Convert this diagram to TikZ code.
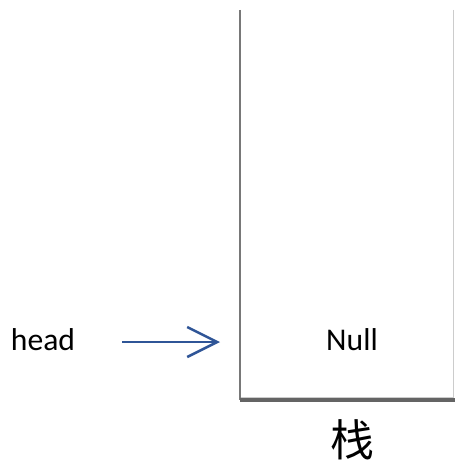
\documentclass[tikz,border=0pt]{standalone}
\usepackage{fontspec}
\setmainfont{Carlito}
\newfontfamily\cjk{Noto Sans CJK SC}
\usetikzlibrary{arrows.meta,positioning}

\begin{document}
\begin{tikzpicture}[
		x=0.02cm,y=-0.02cm,
		label/.style={inner sep=0pt,font=\fontsize{18}{21}\selectfont},
		pointer/.style={-{Straight Barb[length=0.6cm,width=0.6cm,line width=0.05cm]},line width=0.05cm,draw={rgb,255:red,47;green,85;blue,151}},
		wall/.style={draw={rgb,255:red,120;green,120;blue,120},line width=0.04cm}
		]
		\useasboundingbox (0,0) rectangle (455,462);
		
		% stack frame
		\coordinate (top) at (240,10);
		\coordinate (corner) at (240,400);
		\coordinate (end) at (455,400);
		\draw[gray!40,line width=0.02cm] (453,10) -- (453,400);
		\draw[gray!40,line width=0.01cm] (241,397) -- (454,397);
		\draw[wall] (top) -- (corner);
		\draw[wall,line width=0.08cm,draw={rgb,255:red,100;green,100;blue,100}] (corner) -- (end);
		
		\node[label,anchor=base] (null) at (352,350) {Null};
		\node[label,anchor=base] (head) at (43,350) {head};
		\node[inner sep=0pt,font=\cjk\fontsize{25}{30}\selectfont] (stack) at (352,440) {栈};
		
		\coordinate (from) at (122,342);
		\coordinate (to) at (220,342);
		\draw[pointer] (from) -- (to);
		
	\end{tikzpicture}
\end{document}
